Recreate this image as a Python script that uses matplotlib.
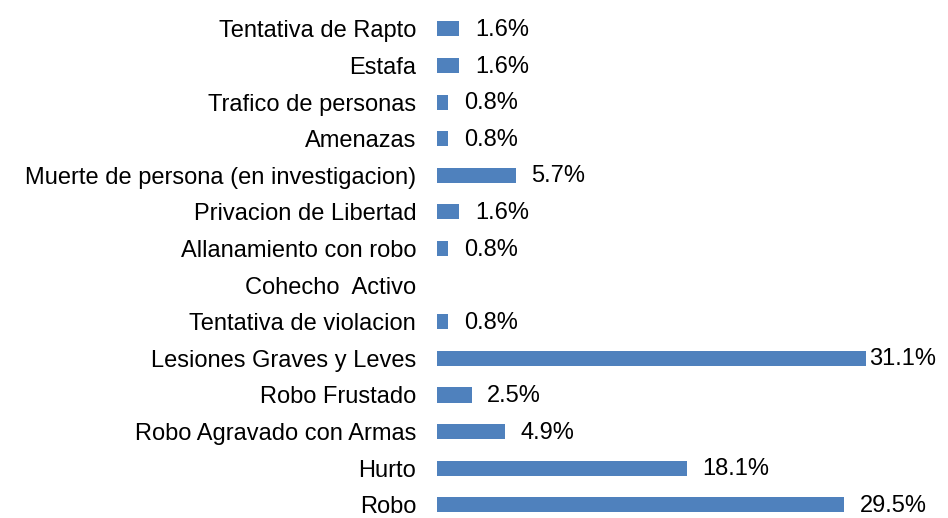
import matplotlib
matplotlib.use("Agg")
import matplotlib.pyplot as plt
from matplotlib import font_manager

categories = [
    "Tentativa de Rapto", "Estafa", "Trafico de personas", "Amenazas",
    "Muerte de persona (en investigacion)", "Privacion de Libertad",
    "Allanamiento con robo", "Cohecho  Activo", "Tentativa de violacion",
    "Lesiones Graves y Leves", "Robo Frustado", "Robo Agravado con Armas",
    "Hurto", "Robo",
]
values = [1.6, 1.6, 0.8, 0.8, 5.7, 1.6, 0.8, None, 0.8, 31.1, 2.5, 4.9, 18.1, 29.5]

names = {f.name for f in font_manager.fontManager.ttflist}
font = "Liberation Sans Narrow" if "Liberation Sans Narrow" in names else "Liberation Sans"
plt.rcParams["font.family"] = [font, "DejaVu Sans"]

fig = plt.figure(figsize=(9.48, 5.18), dpi=100)
ax = fig.add_axes([437 / 948, 0, 511 / 948, 1])

n = len(categories)
ypos = [n - 1 - i for i in range(n)]
widths = [v if v is not None else 0 for v in values]
ax.barh(ypos, widths, height=0.41, color="#4F81BD")

xmax = 511 / 13.8
ax.set_xlim(0, xmax)
ax.set_ylim(-0.36, 13.79)

for y, v in zip(ypos, values):
    if v is None:
        continue
    x = min(v + 1.15, xmax - 5.75)
    ax.text(x, y - 0.03, f"{v:.1f}%", va="center", ha="left", fontsize=17)

ax.set_yticks(ypos)
ax.set_yticklabels(categories, fontsize=17)
ax.tick_params(axis="y", length=0, pad=15)
ax.set_xticks([])
for s in ax.spines.values():
    s.set_visible(False)

fig.savefig("out.png", dpi=100)
